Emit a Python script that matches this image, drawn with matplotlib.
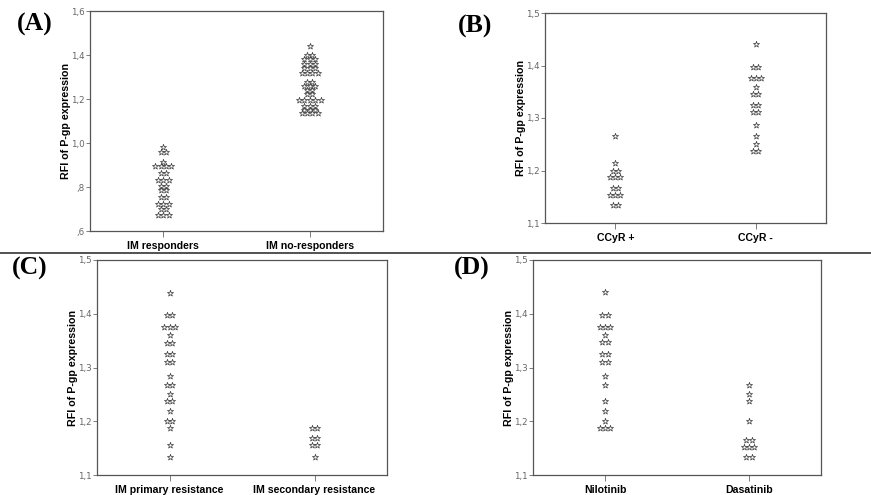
import numpy as np
import matplotlib
matplotlib.use("Agg")
import matplotlib.pyplot as plt
from matplotlib.ticker import FuncFormatter
from matplotlib.lines import Line2D

# each group: row values (RFI) and how many stars sit on that row
resp_levels = [0.982, 0.960, 0.914, 0.896, 0.864, 0.831, 0.806, 0.785, 0.755, 0.724, 0.699, 0.674]
resp_counts = [1, 2, 1, 4, 2, 3, 2, 2, 2, 3, 2, 3]
noresp_levels = [1.441, 1.400, 1.380, 1.358, 1.339, 1.319, 1.278, 1.259, 1.243, 1.225, 1.195, 1.167, 1.152, 1.137]
noresp_counts = [1, 2, 3, 3, 3, 4, 2, 3, 2, 2, 5, 3, 3, 4]

ccyr_pos_levels = [1.266, 1.215, 1.200, 1.188, 1.167, 1.154, 1.134]
ccyr_pos_counts = [1, 1, 2, 3, 2, 3, 2]
ccyr_neg_levels = [1.441, 1.398, 1.376, 1.359, 1.346, 1.325, 1.311, 1.286, 1.266, 1.251, 1.238]
ccyr_neg_counts = [1, 2, 3, 1, 2, 2, 2, 1, 1, 1, 2]

primary_levels = [1.439, 1.398, 1.376, 1.360, 1.346, 1.325, 1.311, 1.285, 1.268, 1.250, 1.238, 1.220, 1.200, 1.188, 1.155, 1.134]
primary_counts = [1, 2, 3, 1, 2, 2, 2, 1, 2, 1, 2, 1, 2, 1, 1, 1]
secondary_levels = [1.187, 1.168, 1.155, 1.134]
secondary_counts = [2, 2, 2, 1]

nilo_levels = [1.440, 1.398, 1.376, 1.360, 1.347, 1.325, 1.311, 1.285, 1.267, 1.238, 1.220, 1.200, 1.187]
nilo_counts = [1, 2, 3, 1, 2, 2, 2, 1, 1, 1, 1, 1, 3]
dasa_levels = [1.267, 1.251, 1.238, 1.200, 1.166, 1.153, 1.134]
dasa_counts = [1, 1, 1, 1, 2, 3, 2]

labels_A = ["IM responders", "IM no-responders"]
labels_B = ["CCyR +", "CCyR -"]
labels_C = ["IM primary resistance", "IM secondary resistance"]
labels_D = ["Nilotinib", "Dasatinib"]

W, H = 871, 495
fig = plt.figure(figsize=(W / 100, H / 100), dpi=100)


def spss_fmt(v, pos):
    s = "%.1f" % v
    s = s.replace(".", ",")
    if s.startswith("0"):
        s = s[1:]
    return s


def dot_plot(box, groups, labels, ylim, yticks, letter, letter_xy):
    l, r, t, b = box
    ax = fig.add_axes([l / W, (H - b) / H, (r - l) / W, (b - t) / H])
    for k, (levels, counts) in enumerate(groups):
        xs, ys = [], []
        for v, n in zip(levels, counts):
            for i in range(n):
                xs.append(k + 1 + (i - (n - 1) / 2) * 0.037)
                ys.append(v)
        ax.scatter(xs, ys, marker="*", s=21, facecolor="white",
                   edgecolor="#3a3a3a", linewidth=0.5, zorder=3)
    ax.set_xlim(0.5, 2.5)
    ax.set_ylim(*ylim)
    ax.set_yticks(yticks)
    ax.yaxis.set_major_formatter(FuncFormatter(spss_fmt))
    ax.set_xticks([1, 2])
    ax.set_xticklabels(labels, fontsize=7.6, fontweight="bold",
                       family="Liberation Sans")
    ax.tick_params(axis="y", labelsize=6.3, colors="#666666", length=3, width=0.6, pad=1)
    ax.tick_params(axis="x", length=4, width=0.6, color="#666666", pad=3)
    for lbl in ax.get_xticklabels():
        lbl.set_color("black")
    for sp in ax.spines.values():
        sp.set_color("#555555")
        sp.set_linewidth(0.9)
    ax.set_ylabel("RFI of P-gp expression", fontsize=7.7, fontweight="bold",
                  family="Liberation Sans", labelpad=0)
    fig.text(letter_xy[0] / W, 1 - letter_xy[1] / H, letter, fontsize=18.5,
             fontweight="bold", family="Liberation Serif", ha="center", va="center")
    return ax


dot_plot((90, 383, 11, 231), [(resp_levels, resp_counts), (noresp_levels, noresp_counts)],
         labels_A, (0.6, 1.6), [0.6, 0.8, 1.0, 1.2, 1.4, 1.6], "(A)", (35, 24))
dot_plot((545, 826, 13, 223), [(ccyr_pos_levels, ccyr_pos_counts), (ccyr_neg_levels, ccyr_neg_counts)],
         labels_B, (1.1, 1.5), [1.1, 1.2, 1.3, 1.4, 1.5], "(B)", (475, 26))
dot_plot((97, 387, 260, 475), [(primary_levels, primary_counts), (secondary_levels, secondary_counts)],
         labels_C, (1.1, 1.5), [1.1, 1.2, 1.3, 1.4, 1.5], "(C)", (30, 268))
dot_plot((533, 821, 260, 475), [(nilo_levels, nilo_counts), (dasa_levels, dasa_counts)],
         labels_D, (1.1, 1.5), [1.1, 1.2, 1.3, 1.4, 1.5], "(D)", (472, 268))

# separator between top and bottom rows
fig.add_artist(Line2D([0, 1], [1 - 253 / H, 1 - 253 / H], color="#333333", linewidth=1.2))

fig.savefig("out.png", dpi=100)
